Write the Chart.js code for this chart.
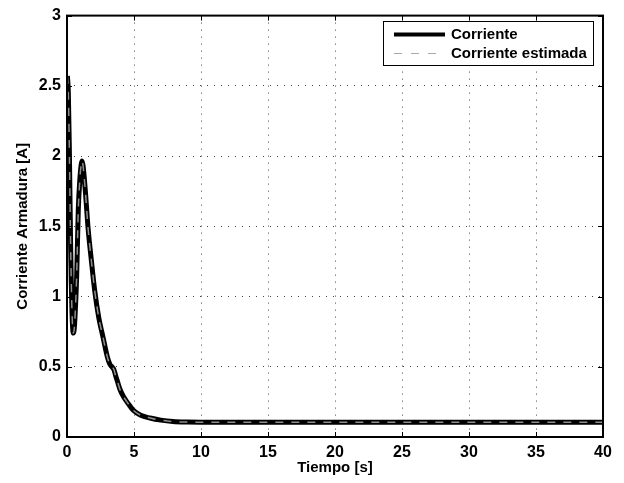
<!DOCTYPE html>
<html>
<head>
<meta charset="utf-8">
<script src="https://cdn.jsdelivr.net/npm/chart.js@4/dist/chart.umd.min.js"></script>
<style>
    html, body { margin: 0; padding: 0; background: #fff; }
</style>
</head>
<body>
<canvas id="myChart" width="624" height="483"></canvas>
<script>
// valores
const tiempo = [0.03, 0.1, 0.17, 0.22, 0.27, 0.32, 0.37, 0.42, 0.47, 0.53, 0.6, 0.72, 0.84, 0.97, 1.06, 1.12, 1.2, 1.37, 1.57, 1.82,
    2.07, 2.37, 2.69, 3.01, 3.19, 3.35, 3.5, 3.62, 3.75, 3.95, 4.2, 4.55, 4.95, 5.5, 6.2, 7.0, 7.9,
    9.0, 10, 15, 20, 25, 30, 35, 40];
const corriente = [2.57, 2.45, 2.08, 1.72, 1.37, 1.1, 0.9, 0.78, 0.74, 0.76, 0.86, 1.14, 1.61, 1.85, 1.94, 1.965, 1.93, 1.75, 1.49, 1.255,
    1.04, 0.85, 0.71, 0.57, 0.52, 0.5, 0.48, 0.44, 0.40, 0.34, 0.29, 0.24, 0.19, 0.155, 0.135, 0.12, 0.11,
    0.106, 0.105, 0.105, 0.105, 0.105, 0.105, 0.105, 0.105];
const corrienteEstimada = [2.57, 2.45, 2.08, 1.72, 1.37, 1.1, 0.9, 0.78, 0.74, 0.76, 0.86, 1.14, 1.61, 1.85, 1.94, 1.965, 1.93, 1.75, 1.49, 1.255,
    1.04, 0.85, 0.71, 0.57, 0.52, 0.5, 0.48, 0.44, 0.40, 0.34, 0.29, 0.24, 0.19, 0.155, 0.135, 0.12, 0.11,
    0.106, 0.105, 0.105, 0.105, 0.105, 0.105, 0.105, 0.105];
const xTicks = [0, 5, 10, 15, 20, 25, 30, 35, 40];
const yTicks = [0, 0.5, 1, 1.5, 2, 2.5, 3];
const etiquetas = ['Corriente', 'Corriente estimada'];

const fuente = "'Liberation Sans', Arial, sans-serif";

function toPoints(xs, ys) {
    return xs.map((t, i) => ({ x: t, y: ys[i] }));
}

// marco, marcas hacia adentro y leyenda estilo matlab
const marcoPlugin = {
    id: 'marco',
    afterDatasetsDraw(chart) {
        const ctx = chart.ctx;
        const a = chart.chartArea;
        const x = chart.scales.x;
        const y = chart.scales.y;
        ctx.save();
        ctx.strokeStyle = '#000';
        ctx.lineWidth = 1;
        ctx.beginPath();
        xTicks.forEach(v => {
            const px = Math.round(x.getPixelForValue(v)) + 0.5;
            ctx.moveTo(px, a.bottom); ctx.lineTo(px, a.bottom - 5);
            ctx.moveTo(px, a.top); ctx.lineTo(px, a.top + 5);
        });
        yTicks.forEach(v => {
            const py = Math.round(y.getPixelForValue(v)) + 0.5;
            ctx.moveTo(a.left, py); ctx.lineTo(a.left + 5, py);
            ctx.moveTo(a.right, py); ctx.lineTo(a.right - 5, py);
        });
        ctx.stroke();
        ctx.lineWidth = 2;
        ctx.strokeRect(a.left, a.top, a.right - a.left, a.bottom - a.top);

        // leyenda
        const lx = 383, ly = 21, lw = 210, lh = 44;
        ctx.fillStyle = '#fff';
        ctx.fillRect(lx, ly, lw, lh);
        ctx.lineWidth = 1;
        ctx.strokeStyle = '#000';
        ctx.strokeRect(lx + 0.5, ly + 0.5, lw, lh);
        const filas = [34, 53];
        chart.data.datasets.forEach((ds, i) => {
            ctx.beginPath();
            ctx.strokeStyle = i === 0 ? '#000' : '#a8a8a8';
            ctx.lineWidth = i === 0 ? 4 : 1;
            ctx.setLineDash(i === 0 ? [] : [8, 9]);
            ctx.moveTo(394, filas[i] + 0.5);
            ctx.lineTo(445, filas[i] + 0.5);
            ctx.stroke();
            ctx.setLineDash([]);
            ctx.fillStyle = '#000';
            ctx.font = 'bold 15px ' + fuente;
            ctx.textBaseline = 'middle';
            ctx.textAlign = 'left';
            ctx.fillText(ds.label, 451, filas[i] + 1);
        });
        ctx.restore();
    }
};

const ctx = document.getElementById('myChart').getContext('2d');
const myChart = new Chart(ctx, {
    type: 'line',
    data: {
        datasets: [{
            label: etiquetas[0],
            data: toPoints(tiempo, corriente),
            borderColor: '#000',
            borderWidth: 5,
            pointRadius: 0,
            order: 2,
            cubicInterpolationMode: 'monotone'
        }, {
            label: etiquetas[1],
            data: toPoints(tiempo, corrienteEstimada),
            borderColor: '#8e8e8e',
            borderWidth: 1.5,
            borderDash: [8, 8],
            pointRadius: 0,
            order: 1,
            cubicInterpolationMode: 'monotone'
        }]
    },
    options: {
        responsive: false,
        animation: false,
        devicePixelRatio: 1,
        layout: { padding: { top: 14, right: 21, left: 0, bottom: 0 } },
        plugins: {
            legend: { display: false },
            tooltip: { enabled: false }
        },
        scales: {
            x: {
                type: 'linear',
                min: 0,
                max: 40,
                afterBuildTicks: s => { s.ticks = xTicks.map(v => ({ value: v })); },
                afterFit: s => { s.height = 46; },
                grid: { color: '#444', lineWidth: 1, drawTicks: false },
                border: { display: false, dash: [1, 6] },
                ticks: {
                    color: '#000',
                    padding: 6,
                    maxRotation: 0,
                    font: { family: fuente, size: 16, weight: 'bold' },
                    callback: v => String(v)
                },
                title: {
                    display: true,
                    text: 'Tiempo [s]',
                    color: '#000',
                    padding: { top: 0, bottom: 6 },
                    font: { family: fuente, size: 15, weight: 'bold' }
                }
            },
            y: {
                type: 'linear',
                min: 0,
                max: 3,
                afterBuildTicks: s => { s.ticks = yTicks.map(v => ({ value: v })); },
                afterFit: s => { s.width = 67; },
                grid: { color: '#444', lineWidth: 1, drawTicks: false },
                border: { display: false, dash: [1, 6] },
                ticks: {
                    color: '#000',
                    padding: 6,
                    font: { family: fuente, size: 16, weight: 'bold' },
                    callback: v => String(v)
                },
                title: {
                    display: true,
                    text: 'Corriente Armadura [A]',
                    color: '#000',
                    padding: { top: 14, bottom: 0 },
                    font: { family: fuente, size: 15, weight: 'bold' }
                }
            }
        }
    },
    plugins: [marcoPlugin]
});
</script>
</body>
</html>
